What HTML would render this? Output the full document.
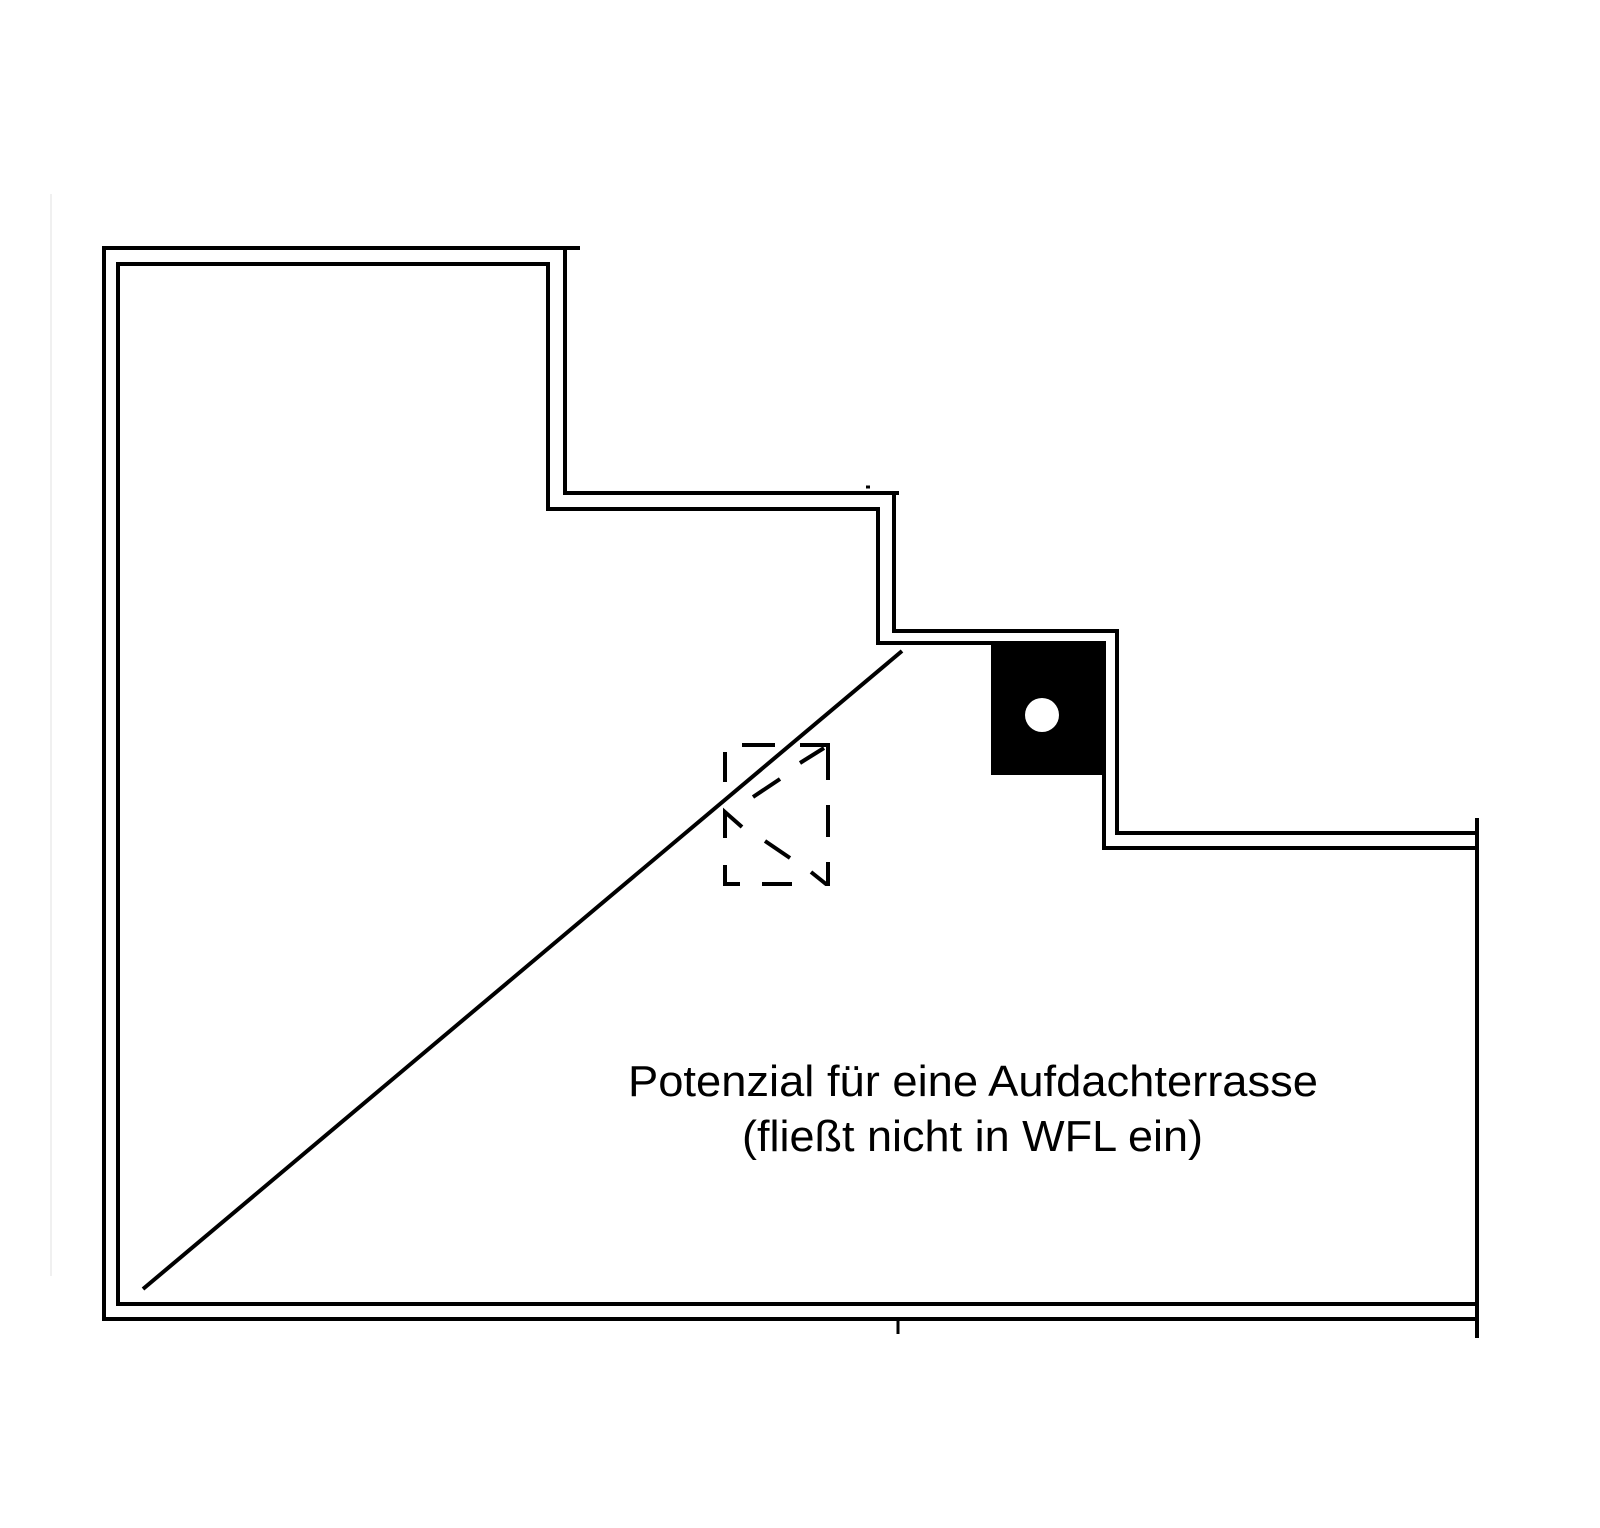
<!DOCTYPE html>
<html><head><meta charset="utf-8"><style>html,body{margin:0;padding:0;background:#fff}svg{display:block}</style></head>
<body>
<svg width="1600" height="1528" viewBox="0 0 1600 1528" xmlns="http://www.w3.org/2000/svg">
<rect width="1600" height="1528" fill="#fff"/>
<line x1="51" y1="194" x2="51" y2="1276" stroke="#f0f0f0" stroke-width="2"/>
<g fill="none" stroke="#000" stroke-width="4" stroke-linejoin="miter">
<polyline points="1477,1319 104,1319 104,248 580,248"/>
<polyline points="565,248 565,493 899,493"/>
<polyline points="894,493 894,631 1117,631 1117,833 1477,833"/>
<polyline points="1477,1304 118,1304 118,264 548,264 548,509 878,509 878,643 1104,643 1104,848 1477,848"/>
<line x1="1477" y1="818" x2="1477" y2="1338" stroke-width="4"/>
<line x1="898" y1="1319" x2="898" y2="1334" stroke-width="3"/>
<line x1="866" y1="487" x2="870" y2="487" stroke-width="3"/>
<line x1="143" y1="1289" x2="902" y2="651" stroke-width="4"/>
<g stroke-width="4">
<line x1="742" y1="745" x2="775" y2="745"/>
<polyline points="800,745 828,745 828,780"/>
<line x1="800" y1="763" x2="824" y2="748"/>
<line x1="725" y1="752" x2="725" y2="782"/>
<line x1="753" y1="797" x2="780" y2="779"/>
<polyline points="742,827 725,812 725,838"/>
<polyline points="725,865 725,884 740,884"/>
<line x1="762" y1="884" x2="792" y2="884"/>
<polyline points="811,872 826,884 828,884 828,862"/>
<line x1="828" y1="805" x2="828" y2="837"/>
<line x1="765" y1="841" x2="790" y2="858"/>
</g>
</g>
<rect x="991" y="643" width="113" height="132" fill="#000"/>
<circle cx="1042" cy="715" r="17" fill="#fff"/>
<text x="628" y="1096" font-family="Liberation Sans, Arial, sans-serif" font-size="44" textLength="690" lengthAdjust="spacingAndGlyphs" fill="#000">Potenzial für eine Aufdachterrasse</text>
<text x="742" y="1151" font-family="Liberation Sans, Arial, sans-serif" font-size="44" textLength="461" lengthAdjust="spacingAndGlyphs" fill="#000">(fließt nicht in WFL ein)</text>
</svg>
</body></html>
